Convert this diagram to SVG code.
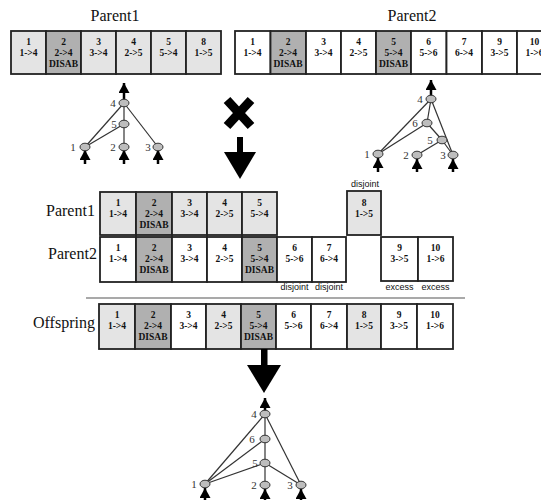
<svg xmlns="http://www.w3.org/2000/svg" width="541" height="500" viewBox="0 0 541 500">
<style>
.c{stroke:#222;stroke-width:1.8}
.w{fill:#ffffff}.l{fill:#e4e4e4}.d{fill:#b0b0b0}
.t{font-family:"Liberation Serif",serif;font-weight:bold;font-size:9.5px;text-anchor:middle;fill:#111}
.lab{font-family:"Liberation Serif",serif;font-size:16px;fill:#111}
.sm{font-family:"Liberation Sans",sans-serif;font-size:9px;fill:#111;text-anchor:middle}
.n{fill:#bdbdbd;stroke:#333;stroke-width:1}
.e{stroke:#333;stroke-width:1.2;fill:none}
.nl{font-family:"Liberation Serif",serif;font-size:11px;fill:#333;text-anchor:middle}
.ar{stroke:#000;stroke-width:2.5;marker-end:url(#ah)}
</style>
<defs>
<marker id="ah" markerUnits="userSpaceOnUse" markerWidth="11" markerHeight="11" refX="10" refY="5.5" orient="auto">
<path d="M0,0 L10,5.5 L0,11 Z" fill="#000"/>
</marker>
</defs>

<g id="label-parent1-top"><text class="lab" x="115" y="21" text-anchor="middle">Parent1</text></g>
<g id="label-parent2-top"><text class="lab" x="412" y="21" text-anchor="middle">Parent2</text></g>

<g id="genome-parent1-top">
<rect class="c l" x="11" y="31" width="35" height="43"/>
<rect class="c d" x="46" y="31" width="35" height="43"/>
<rect class="c l" x="81" y="31" width="35" height="43"/>
<rect class="c l" x="116" y="31" width="35" height="43"/>
<rect class="c l" x="151" y="31" width="35" height="43"/>
<rect class="c l" x="186" y="31" width="35" height="43"/>
<text class="t" x="28.5" y="45">1</text><text class="t" x="28.5" y="56">1->4</text>
<text class="t" x="63.5" y="45">2</text><text class="t" x="63.5" y="56">2->4</text><text class="t" x="63.5" y="67">DISAB</text>
<text class="t" x="98.5" y="45">3</text><text class="t" x="98.5" y="56">3->4</text>
<text class="t" x="133.5" y="45">4</text><text class="t" x="133.5" y="56">2->5</text>
<text class="t" x="168.5" y="45">5</text><text class="t" x="168.5" y="56">5->4</text>
<text class="t" x="203.5" y="45">8</text><text class="t" x="203.5" y="56">1->5</text>
</g>

<g id="genome-parent2-top">
<rect class="c w" x="235" y="31" width="35.5" height="43"/>
<rect class="c d" x="270.5" y="31" width="35.5" height="43"/>
<rect class="c w" x="306" y="31" width="35" height="43"/>
<rect class="c w" x="341" y="31" width="35" height="43"/>
<rect class="c d" x="376" y="31" width="35" height="43"/>
<rect class="c w" x="411" y="31" width="35.5" height="43"/>
<rect class="c w" x="446.5" y="31" width="35.5" height="43"/>
<rect class="c w" x="482" y="31" width="35" height="43"/>
<rect class="c w" x="517" y="31" width="35" height="43"/>
<text class="t" x="252.5" y="45">1</text><text class="t" x="252.5" y="56">1->4</text>
<text class="t" x="288" y="45">2</text><text class="t" x="288" y="56">2->4</text><text class="t" x="288" y="67">DISAB</text>
<text class="t" x="323.5" y="45">3</text><text class="t" x="323.5" y="56">3->4</text>
<text class="t" x="358.5" y="45">4</text><text class="t" x="358.5" y="56">2->5</text>
<text class="t" x="393.5" y="45">5</text><text class="t" x="393.5" y="56">5->4</text><text class="t" x="393.5" y="67">DISAB</text>
<text class="t" x="428.5" y="45">6</text><text class="t" x="428.5" y="56">5->6</text>
<text class="t" x="464" y="45">7</text><text class="t" x="464" y="56">6->4</text>
<text class="t" x="499.5" y="45">9</text><text class="t" x="499.5" y="56">3->5</text>
<text class="t" x="534.5" y="45">10</text><text class="t" x="534.5" y="56">1->6</text>
</g>

<g id="connectors">
<line class="e" x1="124" y1="103" x2="85" y2="147"/>
<line class="e" x1="124" y1="103" x2="124" y2="124"/>
<line class="e" x1="124" y1="103" x2="158" y2="147"/>
<line class="e" x1="124" y1="124" x2="85" y2="147"/>
<line class="e" x1="124" y1="124" x2="124" y2="147"/>
<line class="ar" x1="124" y1="100" x2="124" y2="83"/>
<line class="ar" x1="85" y1="164" x2="85" y2="150"/>
<line class="ar" x1="124" y1="164" x2="124" y2="150"/>
<line class="ar" x1="158" y1="164" x2="158" y2="150"/>
<line class="e" x1="431" y1="99" x2="378" y2="154"/>
<line class="e" x1="431" y1="99" x2="427" y2="123"/>
<line class="e" x1="431" y1="99" x2="453" y2="155"/>
<line class="e" x1="427" y1="123" x2="378" y2="154"/>
<line class="e" x1="427" y1="123" x2="442" y2="140"/>
<line class="e" x1="442" y1="140" x2="417" y2="155"/>
<line class="e" x1="442" y1="140" x2="453" y2="155"/>
<line class="ar" x1="431" y1="96" x2="431" y2="80"/>
<line class="ar" x1="378" y1="172" x2="378" y2="158"/>
<line class="ar" x1="417" y1="172" x2="417" y2="159"/>
<line class="ar" x1="453" y1="172" x2="453" y2="159"/>
<line class="e" x1="265" y1="414" x2="205" y2="484"/>
<line class="e" x1="265" y1="414" x2="265" y2="439"/>
<line class="e" x1="265" y1="414" x2="301" y2="485"/>
<line class="e" x1="265" y1="439" x2="205" y2="484"/>
<line class="e" x1="265" y1="439" x2="265" y2="463"/>
<line class="e" x1="265" y1="463" x2="205" y2="484"/>
<line class="e" x1="265" y1="463" x2="265" y2="485"/>
<line class="e" x1="265" y1="463" x2="301" y2="485"/>
<line class="ar" x1="265" y1="411" x2="265" y2="398"/>
<line class="ar" x1="205" y1="500" x2="205" y2="488"/>
<line class="ar" x1="265" y1="500" x2="265" y2="489"/>
<line class="ar" x1="301" y1="500" x2="301" y2="489"/>
<line x1="86" y1="298" x2="465" y2="298" stroke="#555" stroke-width="1.2"/>
</g>

<g id="network-parent1">
<ellipse class="n" cx="124" cy="103" rx="5" ry="3.8"/>
<ellipse class="n" cx="124" cy="124" rx="5" ry="3.8"/>
<ellipse class="n" cx="85" cy="147" rx="5" ry="3.8"/>
<ellipse class="n" cx="124" cy="147" rx="5" ry="3.8"/>
<ellipse class="n" cx="158" cy="147" rx="5" ry="3.8"/>
<text class="nl" x="113" y="107">4</text>
<text class="nl" x="114" y="128">5</text>
<text class="nl" x="73" y="151">1</text>
<text class="nl" x="113" y="151">2</text>
<text class="nl" x="148" y="151">3</text>
</g>

<g id="network-parent2">
<ellipse class="n" cx="431" cy="99" rx="5" ry="3.8"/>
<ellipse class="n" cx="427" cy="123" rx="5" ry="3.8"/>
<ellipse class="n" cx="442" cy="140" rx="5" ry="3.8"/>
<ellipse class="n" cx="378" cy="154" rx="5" ry="3.8"/>
<ellipse class="n" cx="417" cy="155" rx="5" ry="3.8"/>
<ellipse class="n" cx="453" cy="155" rx="5" ry="3.8"/>
<text class="nl" x="420" y="103">4</text>
<text class="nl" x="415" y="127">6</text>
<text class="nl" x="430" y="144">5</text>
<text class="nl" x="367" y="158">1</text>
<text class="nl" x="406" y="159">2</text>
<text class="nl" x="443" y="159">3</text>
</g>

<g id="cross">
<path d="M227,100 L251,126 M251,100 L227,126" stroke="#000" stroke-width="9" fill="none"/>
</g>
<g id="arrow-mid">
<rect x="237" y="137" width="6" height="16" fill="#000"/>
<path d="M224,152 L256,152 L240,179 Z" fill="#000"/>
</g>

<g id="label-parent1-mid"><text class="lab" x="46" y="216">Parent1</text></g>
<g id="genome-parent1-mid">
<rect class="c l" x="100" y="192" width="36" height="43"/>
<rect class="c d" x="136" y="192" width="36" height="43"/>
<rect class="c l" x="172" y="192" width="35" height="43"/>
<rect class="c l" x="207" y="192" width="35" height="43"/>
<rect class="c l" x="242" y="192" width="35" height="43"/>
<text class="t" x="118" y="206">1</text><text class="t" x="118" y="217">1->4</text>
<text class="t" x="154" y="206">2</text><text class="t" x="154" y="217">2->4</text><text class="t" x="154" y="228">DISAB</text>
<text class="t" x="189.5" y="206">3</text><text class="t" x="189.5" y="217">3->4</text>
<text class="t" x="224.5" y="206">4</text><text class="t" x="224.5" y="217">2->5</text>
<text class="t" x="259.5" y="206">5</text><text class="t" x="259.5" y="217">5->4</text>
<rect class="c l" x="347" y="191" width="34" height="44"/>
<text class="t" x="364" y="206">8</text><text class="t" x="364" y="217">1->5</text>
<text class="sm" x="365" y="187">disjoint</text>
</g>

<g id="label-parent2-mid"><text class="lab" x="48" y="259">Parent2</text></g>
<g id="genome-parent2-mid">
<rect class="c w" x="100" y="237" width="36" height="45"/>
<rect class="c d" x="136" y="237" width="36" height="45"/>
<rect class="c w" x="172" y="237" width="35" height="45"/>
<rect class="c w" x="207" y="237" width="35" height="45"/>
<rect class="c d" x="242" y="237" width="35" height="45"/>
<rect class="c w" x="277" y="237" width="35" height="45"/>
<rect class="c w" x="312" y="237" width="34" height="45"/>
<text class="t" x="118" y="251">1</text><text class="t" x="118" y="262">1->4</text>
<text class="t" x="154" y="251">2</text><text class="t" x="154" y="262">2->4</text><text class="t" x="154" y="273">DISAB</text>
<text class="t" x="189.5" y="251">3</text><text class="t" x="189.5" y="262">3->4</text>
<text class="t" x="224.5" y="251">4</text><text class="t" x="224.5" y="262">2->5</text>
<text class="t" x="259.5" y="251">5</text><text class="t" x="259.5" y="262">5->4</text><text class="t" x="259.5" y="273">DISAB</text>
<text class="t" x="294.5" y="251">6</text><text class="t" x="294.5" y="262">5->6</text>
<text class="t" x="329" y="251">7</text><text class="t" x="329" y="262">6->4</text>
<rect class="c w" x="381" y="237" width="37" height="44"/>
<rect class="c w" x="418" y="237" width="35" height="44"/>
<text class="t" x="399.5" y="251">9</text><text class="t" x="399.5" y="262">3->5</text>
<text class="t" x="435.5" y="251">10</text><text class="t" x="435.5" y="262">1->6</text>
<text class="sm" x="294.5" y="290">disjoint</text>
<text class="sm" x="329" y="290">disjoint</text>
<text class="sm" x="399.5" y="290">excess</text>
<text class="sm" x="435.5" y="290">excess</text>
</g>

<g id="label-offspring"><text class="lab" x="33" y="328">Offspring</text></g>
<g id="genome-offspring">
<rect class="c l" x="99" y="304" width="36" height="45"/>
<rect class="c d" x="135" y="304" width="36" height="45"/>
<rect class="c w" x="171" y="304" width="35" height="45"/>
<rect class="c l" x="206" y="304" width="35" height="45"/>
<rect class="c d" x="241" y="304" width="35" height="45"/>
<rect class="c w" x="276" y="304" width="35" height="45"/>
<rect class="c w" x="311" y="304" width="36" height="45"/>
<rect class="c l" x="347" y="304" width="34" height="45"/>
<rect class="c w" x="381" y="304" width="36" height="45"/>
<rect class="c w" x="417" y="304" width="36" height="45"/>
<text class="t" x="117" y="318">1</text><text class="t" x="117" y="329">1->4</text>
<text class="t" x="153" y="318">2</text><text class="t" x="153" y="329">2->4</text><text class="t" x="153" y="340">DISAB</text>
<text class="t" x="188.5" y="318">3</text><text class="t" x="188.5" y="329">3->4</text>
<text class="t" x="223.5" y="318">4</text><text class="t" x="223.5" y="329">2->5</text>
<text class="t" x="258.5" y="318">5</text><text class="t" x="258.5" y="329">5->4</text><text class="t" x="258.5" y="340">DISAB</text>
<text class="t" x="293.5" y="318">6</text><text class="t" x="293.5" y="329">5->6</text>
<text class="t" x="329" y="318">7</text><text class="t" x="329" y="329">6->4</text>
<text class="t" x="364" y="318">8</text><text class="t" x="364" y="329">1->5</text>
<text class="t" x="399" y="318">9</text><text class="t" x="399" y="329">3->5</text>
<text class="t" x="435" y="318">10</text><text class="t" x="435" y="329">1->6</text>
</g>

<g id="arrow-bottom">
<rect x="261" y="349" width="6.5" height="17" fill="#000"/>
<path d="M247,365 L281,365 L264,393 Z" fill="#000"/>
</g>

<g id="network-offspring">
<ellipse class="n" cx="265" cy="414" rx="5" ry="3.8"/>
<ellipse class="n" cx="265" cy="439" rx="5" ry="3.8"/>
<ellipse class="n" cx="265" cy="463" rx="5" ry="3.8"/>
<ellipse class="n" cx="205" cy="484" rx="5" ry="3.8"/>
<ellipse class="n" cx="265" cy="485" rx="5" ry="3.8"/>
<ellipse class="n" cx="301" cy="485" rx="5" ry="3.8"/>
<text class="nl" x="254" y="418">4</text>
<text class="nl" x="252" y="443">6</text>
<text class="nl" x="255" y="467">5</text>
<text class="nl" x="194" y="488">1</text>
<text class="nl" x="254" y="489">2</text>
<text class="nl" x="290" y="489">3</text>
</g>
</svg>
